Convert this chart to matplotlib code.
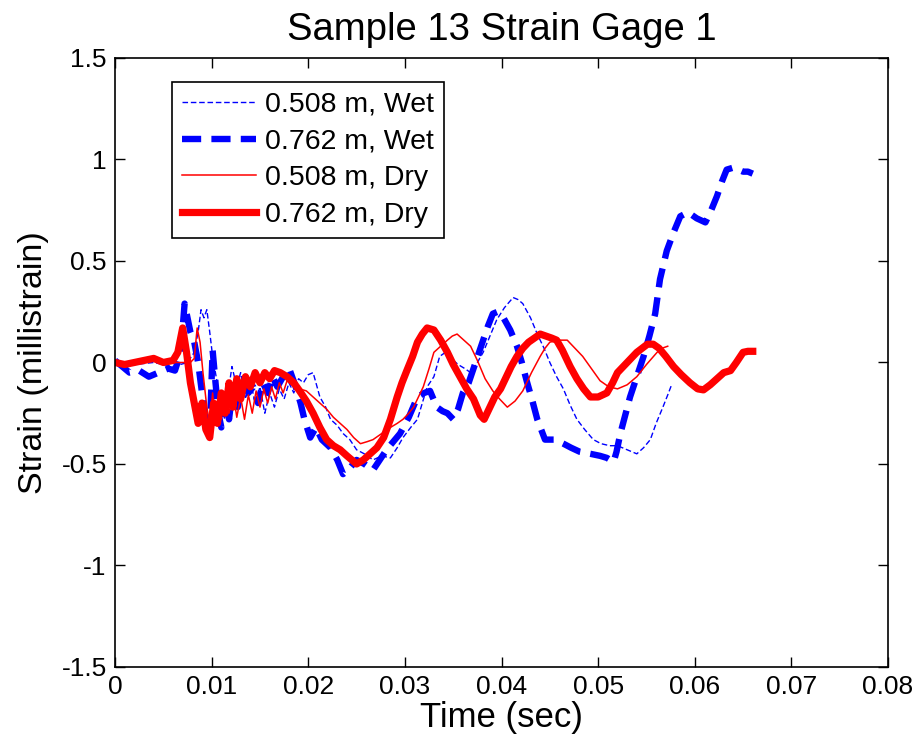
import matplotlib.pyplot as plt

plt.rcParams['font.family'] = ['Liberation Sans', 'DejaVu Sans']

# 0.508 m, Wet
t_wet_508 = [0, 0.002, 0.004, 0.006, 0.0075, 0.0082, 0.0086, 0.0089, 0.0092, 0.0095,
             0.0098, 0.0101, 0.0105, 0.0109, 0.0113, 0.0117, 0.0121, 0.0126, 0.013, 0.0135,
             0.014, 0.0145, 0.015, 0.0155, 0.016, 0.0165, 0.017, 0.0175, 0.018, 0.0185,
             0.019, 0.0195, 0.02, 0.0205, 0.0212, 0.0218, 0.0223, 0.023, 0.0236, 0.0243,
             0.025, 0.0258, 0.0267, 0.0276, 0.0285, 0.0292, 0.0298, 0.0306, 0.0313, 0.0318,
             0.0323, 0.033, 0.0336, 0.0342, 0.0348, 0.0355, 0.0362, 0.0368, 0.0375, 0.0381,
             0.0388, 0.0395, 0.0403, 0.0412, 0.0417, 0.0422, 0.043, 0.0437, 0.0444, 0.045,
             0.0457, 0.0464, 0.0471, 0.0478, 0.0486, 0.0495, 0.0503, 0.0512, 0.052, 0.053,
             0.054, 0.0547, 0.0554, 0.056, 0.0567, 0.0572, 0.0576]
s_wet_508 = [0.01, -0.01, 0.0, -0.02, 0.0, 0.05, 0.15, 0.26, 0.22, 0.26,
             0.15, 0.03, -0.08, -0.2, -0.28, -0.15, -0.02, -0.12, -0.05, -0.18,
             -0.09, -0.2, -0.12, -0.25, -0.15, -0.22, -0.13, -0.18, -0.1, -0.15,
             -0.08, -0.1, -0.06, -0.05, -0.17, -0.22, -0.28, -0.31, -0.35, -0.38,
             -0.43, -0.45, -0.48, -0.46, -0.47, -0.42, -0.37, -0.32, -0.28, -0.2,
             -0.12, -0.07, 0.03, 0.05, 0.02, -0.01, -0.03, -0.05, 0.0, 0.05,
             0.13, 0.21, 0.27, 0.32, 0.31, 0.29, 0.22, 0.14, 0.07, 0.0,
             -0.07, -0.13, -0.21, -0.28, -0.33, -0.38, -0.4, -0.41, -0.41, -0.43,
             -0.45, -0.42, -0.38, -0.3, -0.22, -0.16, -0.11]

# 0.762 m, Wet
t_wet_762 = [0, 0.001, 0.0015, 0.0025, 0.0035, 0.0045, 0.0055, 0.0062, 0.0068, 0.0072,
             0.0075, 0.0078, 0.0082, 0.0086, 0.009, 0.0094, 0.0098, 0.0101, 0.0104, 0.0107,
             0.011, 0.0114, 0.0118, 0.0122, 0.0127, 0.0132, 0.0138, 0.0143, 0.0148, 0.0153,
             0.0158, 0.0163, 0.0168, 0.0174, 0.0181, 0.0187, 0.0192, 0.0196, 0.0202, 0.0208,
             0.0214, 0.0223, 0.023, 0.0236, 0.0243, 0.025, 0.0258, 0.0267, 0.0274, 0.0281,
             0.0288, 0.0295, 0.0304, 0.0313, 0.032, 0.0326, 0.0333, 0.0339, 0.0344, 0.035,
             0.0355, 0.036, 0.0366, 0.0371, 0.0376, 0.0381, 0.0386, 0.0391, 0.0396, 0.0402,
             0.0409, 0.0416, 0.0421, 0.0426, 0.0432, 0.0437, 0.0445, 0.0455, 0.0464, 0.0472,
             0.0481, 0.0492, 0.0502, 0.0509, 0.0516, 0.0519, 0.0523, 0.0528, 0.0533, 0.054,
             0.0547, 0.0553, 0.0559, 0.0564, 0.0571, 0.0578, 0.0585, 0.0593, 0.0602, 0.0611,
             0.0617, 0.0623, 0.0628, 0.0633, 0.064, 0.0645, 0.065, 0.0655, 0.066]
s_wet_762 = [0.01, -0.03, -0.05, -0.04, -0.07, -0.05, -0.03, -0.04, 0.05, 0.29,
             0.22, 0.15, 0.1, 0.0, -0.15, -0.3, -0.35, 0.06, -0.1, -0.25,
             -0.32, -0.18, -0.28, -0.12, -0.22, -0.1, -0.15, -0.12, -0.2, -0.1,
             -0.15, -0.07, -0.12, -0.07, -0.04, -0.12, -0.2, -0.28, -0.37, -0.32,
             -0.38, -0.42, -0.48, -0.55, -0.52, -0.48, -0.5, -0.53, -0.48, -0.43,
             -0.39, -0.35, -0.27, -0.17, -0.15, -0.14, -0.22, -0.24, -0.25, -0.28,
             -0.23, -0.15, -0.1, -0.03, 0.04, 0.11, 0.18, 0.24, 0.25, 0.22,
             0.16, 0.08, 0.0, -0.09, -0.19, -0.28, -0.38, -0.38, -0.4, -0.42,
             -0.44, -0.45, -0.46, -0.47, -0.49, -0.44, -0.35, -0.26, -0.17, -0.07,
             0.03, 0.13, 0.24, 0.41, 0.55, 0.64, 0.72, 0.74, 0.71, 0.69,
             0.75, 0.82, 0.89, 0.95, 0.96, 0.95, 0.94, 0.94, 0.93]

# 0.508 m, Dry
t_dry_508 = [0, 0.002, 0.004, 0.006, 0.0078, 0.0082, 0.0085, 0.0088, 0.0091, 0.0095,
             0.0098, 0.0101, 0.0104, 0.0107, 0.011, 0.0114, 0.0118, 0.0122, 0.0126, 0.013,
             0.0134, 0.0138, 0.0142, 0.0146, 0.015, 0.0154, 0.0158, 0.0162, 0.0166, 0.017,
             0.0174, 0.0178, 0.0185, 0.0191, 0.0198, 0.0205, 0.0212, 0.0219, 0.0226, 0.0233,
             0.024, 0.0247, 0.0254, 0.0261, 0.0267, 0.0276, 0.0285, 0.0292, 0.0298, 0.0304,
             0.0309, 0.0314, 0.0319, 0.0325, 0.033, 0.0337, 0.0344, 0.0349, 0.0354, 0.0361,
             0.0368, 0.0375, 0.0383, 0.0391, 0.0398, 0.0406, 0.0414, 0.0422, 0.0431, 0.044,
             0.0445, 0.045, 0.0459, 0.0468, 0.0476, 0.0484, 0.0493, 0.0502, 0.0511, 0.052,
             0.053, 0.054, 0.055, 0.0561, 0.0566, 0.0572]
s_dry_508 = [-0.01, 0.0, 0.01, 0.0, 0.0, 0.02, 0.17, 0.1, -0.05, -0.22,
             -0.3, -0.15, -0.3, -0.2, -0.28, -0.15, -0.25, -0.14, -0.27, -0.17,
             -0.28, -0.16, -0.25, -0.14, -0.22, -0.13, -0.2, -0.12, -0.18, -0.1,
             -0.15, -0.09, -0.12, -0.13, -0.14, -0.17, -0.2, -0.23, -0.27, -0.3,
             -0.33, -0.37, -0.4, -0.39, -0.38, -0.35, -0.32, -0.3, -0.28, -0.25,
             -0.22, -0.17, -0.12, -0.03, 0.05, 0.08, 0.11, 0.13, 0.14, 0.11,
             0.08, 0.01, -0.08, -0.14, -0.18, -0.22, -0.19, -0.14, -0.05, 0.03,
             0.07, 0.1, 0.11, 0.11, 0.07, 0.03, -0.03, -0.09, -0.12, -0.13,
             -0.11, -0.07, -0.01, 0.05, 0.07, 0.08]

# 0.762 m, Dry
t_dry_762 = [0, 0.001, 0.002, 0.003, 0.004, 0.005, 0.006, 0.0065, 0.007, 0.0074,
             0.0078, 0.0082, 0.0086, 0.009, 0.0094, 0.0098, 0.0102, 0.0106, 0.011, 0.0114,
             0.0118, 0.0122, 0.0126, 0.013, 0.0135, 0.014, 0.0145, 0.015, 0.0155, 0.016,
             0.0165, 0.0171, 0.0178, 0.0185, 0.0191, 0.0198, 0.0205, 0.0212, 0.0219, 0.0226,
             0.0233, 0.024, 0.025, 0.0257, 0.0264, 0.0271, 0.0278, 0.0285, 0.0292, 0.0297,
             0.0302, 0.0308, 0.0313, 0.0318, 0.0323, 0.033, 0.0337, 0.0344, 0.035, 0.0357,
             0.0364, 0.0371, 0.0378, 0.0382, 0.0388, 0.0393, 0.0399, 0.0405, 0.041, 0.0416,
             0.0422, 0.0428, 0.0434, 0.044, 0.0446, 0.0452, 0.0457, 0.0463, 0.0471, 0.0478,
             0.0485, 0.0492, 0.05, 0.0509, 0.0515, 0.052, 0.053, 0.054, 0.0551, 0.0557,
             0.0563, 0.057, 0.0578, 0.0586, 0.0595, 0.0603, 0.0609, 0.0616, 0.0623, 0.063,
             0.0637, 0.0643, 0.065, 0.0655, 0.066]
s_dry_762 = [0.0, -0.01, 0.0, 0.01, 0.02, 0.0, 0.01, 0.05, 0.17, 0.05,
             -0.1, -0.2, -0.3, -0.2, -0.33, -0.37, -0.2, -0.3, -0.15, -0.25,
             -0.1, -0.22, -0.08, -0.18, -0.07, -0.12, -0.05, -0.1, -0.05, -0.08,
             -0.04, -0.05, -0.07, -0.1, -0.14, -0.19, -0.25, -0.32, -0.38, -0.41,
             -0.43, -0.46, -0.5, -0.48, -0.45, -0.42, -0.37, -0.28, -0.17, -0.1,
             -0.04, 0.03, 0.1, 0.14, 0.17, 0.16, 0.11, 0.05, -0.01, -0.07,
             -0.13, -0.18, -0.26, -0.28, -0.22, -0.17, -0.13, -0.07, -0.02, 0.03,
             0.07, 0.1, 0.12, 0.14, 0.13, 0.12, 0.11, 0.06, -0.02, -0.08,
             -0.13, -0.17, -0.17, -0.15, -0.1, -0.05, 0.0, 0.05, 0.09, 0.09,
             0.07, 0.03, -0.02, -0.06, -0.1, -0.13, -0.135, -0.11, -0.08, -0.05,
             -0.04, 0.0, 0.05, 0.055, 0.055]

fig = plt.figure(figsize=(9.21, 7.5), dpi=100)
ax = fig.add_axes([0.1249, 0.1107, 0.8393, 0.812])

ax.plot(t_wet_508, s_wet_508, color='blue', lw=1.0, dashes=(4, 2), label='0.508 m, Wet')
ax.plot(t_wet_762, s_wet_762, color='blue', lw=4.6, dashes=(3.0, 1.6), label='0.762 m, Wet')
ax.plot(t_dry_508, s_dry_508, color='red', lw=1.1, label='0.508 m, Dry')
ax.plot(t_dry_762, s_dry_762, color='red', lw=5.2, label='0.762 m, Dry')

ax.set_xlim(0, 0.08)
ax.set_ylim(-1.5, 1.5)
ax.set_xticks([0, 0.01, 0.02, 0.03, 0.04, 0.05, 0.06, 0.07, 0.08])
ax.set_xticklabels(['0', '0.01', '0.02', '0.03', '0.04', '0.05', '0.06', '0.07', '0.08'])
ax.set_yticks([-1.5, -1, -0.5, 0, 0.5, 1, 1.5])
ax.set_yticklabels(['-1.5', '-1', '-0.5', '0', '0.5', '1', '1.5'])
ax.tick_params(direction='in', top=True, right=True, length=7, width=1, labelsize=19, pad=6)
for sp in ax.spines.values():
    sp.set_linewidth(1.2)

ax.set_title('Sample 13 Strain Gage 1', fontsize=27.5, pad=13)
ax.set_xlabel('Time (sec)', fontsize=25, labelpad=1)
ax.set_ylabel('Strain (millistrain)', fontsize=24.5, labelpad=9)

leg = ax.legend(loc='upper left', bbox_to_anchor=(0.074, 0.961), borderaxespad=0,
                fontsize=20.5, handlelength=2.6, labelspacing=0.38, handletextpad=0.3,
                fancybox=False, edgecolor='black', framealpha=1, borderpad=0.35)
leg.get_frame().set_linewidth(1.2)

fig.savefig('out.png', dpi=100)
